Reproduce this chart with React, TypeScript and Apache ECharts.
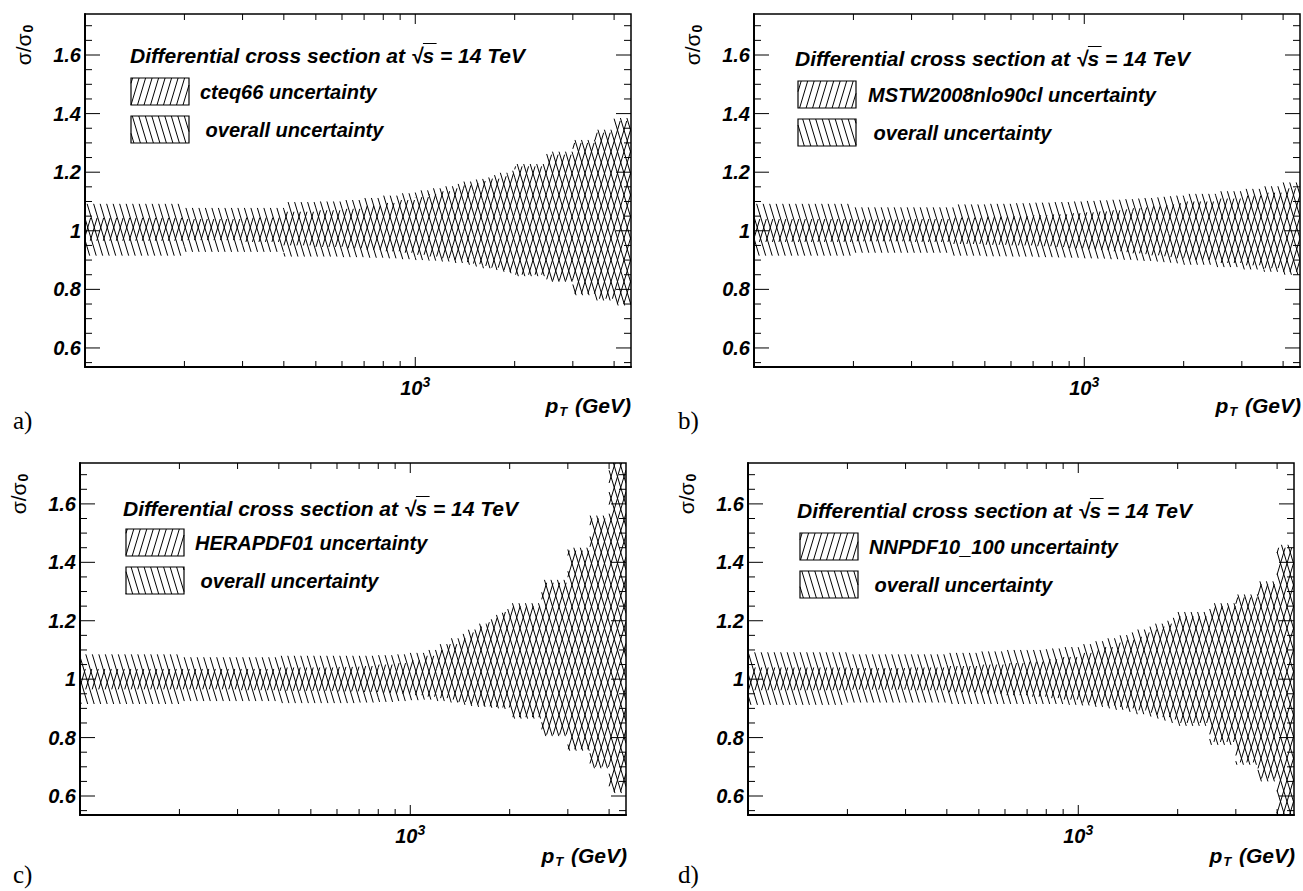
import React, { useEffect, useRef } from "react";
import * as echarts from "echarts";

// ---------- data ----------
const binEdges = [100, 200, 300, 400, 500, 600, 700, 800, 900, 1000, 1100, 1200, 1300, 1400, 1500, 1600, 1700, 1800, 1900, 2000, 2500, 3000, 3500, 4000, 4500];

// a) cteq66
const cteqOverallHigh = [1.092, 1.078, 1.078, 1.098, 1.1, 1.105, 1.112, 1.12, 1.128, 1.138, 1.145, 1.152, 1.16, 1.168, 1.175, 1.182, 1.19, 1.198, 1.205, 1.228, 1.27, 1.31, 1.345, 1.385];
const cteqOverallLow = [0.915, 0.928, 0.928, 0.912, 0.912, 0.91, 0.908, 0.906, 0.903, 0.9, 0.898, 0.895, 0.89, 0.884, 0.878, 0.872, 0.866, 0.86, 0.855, 0.845, 0.826, 0.78, 0.762, 0.745];
const cteqPdfHigh = [1.044, 1.04, 1.045, 1.065, 1.07, 1.075, 1.085, 1.095, 1.105, 1.115, 1.125, 1.135, 1.145, 1.155, 1.162, 1.17, 1.178, 1.186, 1.195, 1.22, 1.26, 1.3, 1.335, 1.375];
const cteqPdfLow = [0.966, 0.968, 0.962, 0.95, 0.945, 0.94, 0.935, 0.93, 0.925, 0.918, 0.912, 0.906, 0.9, 0.893, 0.886, 0.88, 0.874, 0.866, 0.86, 0.85, 0.83, 0.785, 0.768, 0.75];

// b) MSTW2008nlo90cl
const mstwOverallHigh = [1.092, 1.08, 1.08, 1.09, 1.092, 1.094, 1.096, 1.098, 1.1, 1.102, 1.104, 1.106, 1.108, 1.11, 1.112, 1.114, 1.116, 1.118, 1.12, 1.126, 1.135, 1.143, 1.152, 1.165];
const mstwOverallLow = [0.915, 0.925, 0.925, 0.915, 0.913, 0.912, 0.91, 0.909, 0.908, 0.906, 0.905, 0.903, 0.901, 0.899, 0.897, 0.895, 0.893, 0.891, 0.889, 0.884, 0.876, 0.868, 0.86, 0.85];
const mstwPdfHigh = [1.04, 1.038, 1.04, 1.045, 1.048, 1.05, 1.053, 1.056, 1.06, 1.063, 1.066, 1.07, 1.073, 1.077, 1.08, 1.084, 1.087, 1.09, 1.094, 1.1, 1.11, 1.12, 1.13, 1.145];
const mstwPdfLow = [0.962, 0.964, 0.962, 0.955, 0.952, 0.95, 0.947, 0.944, 0.94, 0.937, 0.934, 0.93, 0.927, 0.923, 0.92, 0.916, 0.913, 0.91, 0.906, 0.9, 0.89, 0.882, 0.872, 0.86];

// c) HERAPDF01
const heraOverallHigh = [1.085, 1.075, 1.075, 1.08, 1.08, 1.08, 1.08, 1.082, 1.085, 1.09, 1.1, 1.12, 1.14, 1.155, 1.17, 1.19, 1.205, 1.22, 1.24, 1.26, 1.34, 1.45, 1.56, 1.8];
const heraOverallLow = [0.915, 0.925, 0.925, 0.918, 0.918, 0.918, 0.92, 0.922, 0.925, 0.928, 0.93, 0.925, 0.92, 0.912, 0.908, 0.905, 0.902, 0.9, 0.898, 0.865, 0.805, 0.755, 0.695, 0.61];
const heraPdfHigh = [1.035, 1.035, 1.035, 1.04, 1.04, 1.042, 1.045, 1.05, 1.055, 1.065, 1.08, 1.1, 1.12, 1.14, 1.16, 1.18, 1.195, 1.21, 1.23, 1.25, 1.33, 1.44, 1.55, 1.78];
const heraPdfLow = [0.965, 0.965, 0.962, 0.96, 0.96, 0.958, 0.956, 0.953, 0.95, 0.945, 0.94, 0.935, 0.93, 0.922, 0.915, 0.91, 0.907, 0.905, 0.903, 0.87, 0.81, 0.76, 0.7, 0.615];

// d) NNPDF10_100
const nnpdfOverallHigh = [1.092, 1.085, 1.085, 1.09, 1.095, 1.1, 1.1, 1.105, 1.11, 1.12, 1.13, 1.14, 1.15, 1.16, 1.17, 1.18, 1.19, 1.2, 1.21, 1.23, 1.26, 1.29, 1.335, 1.46];
const nnpdfOverallLow = [0.912, 0.92, 0.92, 0.915, 0.915, 0.915, 0.915, 0.915, 0.912, 0.91, 0.905, 0.9, 0.895, 0.888, 0.88, 0.872, 0.865, 0.858, 0.85, 0.84, 0.775, 0.707, 0.65, 0.5];
const nnpdfPdfHigh = [1.04, 1.038, 1.04, 1.045, 1.05, 1.055, 1.06, 1.068, 1.076, 1.09, 1.1, 1.11, 1.125, 1.135, 1.145, 1.16, 1.17, 1.18, 1.19, 1.215, 1.25, 1.28, 1.325, 1.45];
const nnpdfPdfLow = [0.962, 0.964, 0.962, 0.955, 0.95, 0.945, 0.94, 0.935, 0.93, 0.92, 0.915, 0.91, 0.905, 0.9, 0.893, 0.885, 0.878, 0.87, 0.862, 0.85, 0.785, 0.715, 0.66, 0.51];

const pdfNames = ["cteq66", "MSTW2008nlo90cl", "HERAPDF01", "NNPDF10_100"];
const panelLetters = ["a)", "b)", "c)", "d)"];
const xMajorTicks = [1000];
const xMinorTicks = [200, 300, 400, 500, 600, 700, 800, 900, 2000, 3000, 4000];
const yMajorTicks = [0.6, 0.8, 1.0, 1.2, 1.4, 1.6];
const yMinorTicks = [0.55, 0.65, 0.7, 0.75, 0.85, 0.9, 0.95, 1.05, 1.1, 1.15, 1.25, 1.3, 1.35, 1.45, 1.5, 1.55, 1.65, 1.7];
const xLabelValues = [1000];

const bandsOverall = [
  [cteqOverallHigh, cteqOverallLow],
  [mstwOverallHigh, mstwOverallLow],
  [heraOverallHigh, heraOverallLow],
  [nnpdfOverallHigh, nnpdfOverallLow],
];
const bandsPdf = [
  [cteqPdfHigh, cteqPdfLow],
  [mstwPdfHigh, mstwPdfLow],
  [heraPdfHigh, heraPdfLow],
  [nnpdfPdfHigh, nnpdfPdfLow],
];

// ---------- layout / style ----------
const X_MIN = 100;
const X_MAX = 4500;
const Y_MIN = 0.535;
const Y_MAX = 1.74;
const FONT = "Liberation Sans";
const SERIF = "Liberation Serif";
const HATCH_SPACING = 6.5;
const HATCH_SLOPE = 0.3;
const TITLE_SIZE = 21;

const layout = [
  { left: 85, top: 14, width: 546, height: 353, title: [130, 55], box: [131, 78], text: 200, letter: [13, 420], xTitle: [631, 405] },
  { left: 754, top: 14, width: 546, height: 353, title: [795, 58], box: [798, 81], text: 868, letter: [678, 420], xTitle: [1301, 405] },
  { left: 80, top: 463, width: 546, height: 352, title: [123, 508], box: [126, 529], text: 195, letter: [13, 874], xTitle: [627, 855] },
  { left: 748, top: 463, width: 546, height: 352, title: [797, 510], box: [800, 533], text: 869, letter: [678, 874], xTitle: [1295, 855] },
];
const BOX_W = 58;
const BOX_H = 27;
const BOX_GAP = 38;

function hatchSegments(x0: number, x1: number, y0: number, y1: number, s: number, sp: number) {
  // lines x = c + s*y
  const cs = [x0 - s * y0, x0 - s * y1, x1 - s * y0, x1 - s * y1];
  const cmin = Math.min(...cs);
  const cmax = Math.max(...cs);
  const segs: number[][] = [];
  for (let k = Math.ceil(cmin / sp); k * sp <= cmax; k++) {
    const c = k * sp;
    let ya = (x0 - c) / s;
    let yb = (x1 - c) / s;
    if (ya > yb) {
      const t = ya;
      ya = yb;
      yb = t;
    }
    const lo = Math.max(y0, ya);
    const hi = Math.min(y1, yb);
    if (hi - lo > 0.2) segs.push([c + s * lo, lo, c + s * hi, hi]);
  }
  return segs;
}

function bandData(high: number[], low: number[]) {
  return high.map((h, i) => [binEdges[i], binEdges[i + 1], low[i], h]);
}

function makeBandRender(slope: number) {
  return (params: any, api: any) => {
    const x0v = api.value(0);
    const x1v = api.value(1);
    const lo = api.value(2);
    const hi = api.value(3);
    const pA = api.coord([x0v, hi]);
    const pB = api.coord([x1v, lo]);
    const cs = params.coordSys;
    const X0 = Math.max(Math.min(pA[0], pB[0]), cs.x);
    const X1 = Math.min(Math.max(pA[0], pB[0]), cs.x + cs.width);
    const Y0 = Math.max(Math.min(pA[1], pB[1]), cs.y);
    const Y1 = Math.min(Math.max(pA[1], pB[1]), cs.y + cs.height);
    if (X1 <= X0 || Y1 <= Y0) return null;
    const segs = hatchSegments(X0, X1, Y0, Y1, slope, HATCH_SPACING);
    return {
      type: "group",
      children: segs.map((s) => ({
        type: "line",
        shape: { x1: s[0], y1: s[1], x2: s[2], y2: s[3] },
        style: { stroke: "#000", lineWidth: 1 },
      })),
    };
  };
}

function xTickRender(params: any, api: any) {
  const v = api.value(0);
  const len = xMajorTicks.indexOf(v) >= 0 ? 10 : 6;
  const x = api.coord([v, 1])[0];
  const cs = params.coordSys;
  const b = cs.y + cs.height;
  return {
    type: "group",
    children: [
      { type: "line", shape: { x1: x, y1: b, x2: x, y2: b - len }, style: { stroke: "#000", lineWidth: 1 } },
      { type: "line", shape: { x1: x, y1: cs.y, x2: x, y2: cs.y + len }, style: { stroke: "#000", lineWidth: 1 } },
    ],
  };
}

function yTickRender(params: any, api: any) {
  const v = api.value(1);
  const len = yMajorTicks.some((m) => Math.abs(m - v) < 1e-6) ? 15 : 7;
  const y = api.coord([1000, v])[1];
  const cs = params.coordSys;
  const r = cs.x + cs.width;
  return {
    type: "group",
    children: [
      { type: "line", shape: { x1: cs.x, y1: y, x2: cs.x + len, y2: y }, style: { stroke: "#000", lineWidth: 1 } },
      { type: "line", shape: { x1: r, y1: y, x2: r - len, y2: y }, style: { stroke: "#000", lineWidth: 1 } },
    ],
  };
}

const boldItalic = { fontFamily: FONT, fontWeight: "bold", fontStyle: "italic", fill: "#000" };

function buildGraphic() {
  const els: any[] = [];
  const k = TITLE_SIZE / 20;
  layout.forEach((L, i) => {
    // legend title
    els.push({
      type: "text",
      x: L.title[0],
      y: L.title[1],
      style: { ...boldItalic, text: "Differential cross section at √s = 14 TeV", fontSize: TITLE_SIZE, align: "left", verticalAlign: "middle", textAlign: "left", textVerticalAlign: "middle" },
    });
    // overline of sqrt
    els.push({
      type: "line",
      shape: { x1: L.title[0] + 279 * k, y1: L.title[1] - 11.5, x2: L.title[0] + 292 * k, y2: L.title[1] - 11.5 },
      style: { stroke: "#000", lineWidth: 1 },
    });
    // legend boxes
    const rows = [
      { y: L.box[1], slope: -HATCH_SLOPE, label: pdfNames[i] + " uncertainty" },
      { y: L.box[1] + BOX_GAP, slope: HATCH_SLOPE, label: " overall uncertainty" },
    ];
    rows.forEach((row) => {
      const bx = L.box[0];
      const by = row.y;
      hatchSegments(bx, bx + BOX_W, by, by + BOX_H, row.slope, HATCH_SPACING).forEach((s) => {
        els.push({ type: "line", shape: { x1: s[0], y1: s[1], x2: s[2], y2: s[3] }, style: { stroke: "#000", lineWidth: 1 } });
      });
      els.push({
        type: "rect",
        shape: { x: bx, y: by, width: BOX_W, height: BOX_H },
        style: { fill: "none", stroke: "#000", lineWidth: 1.2 },
      });
      els.push({
        type: "text",
        x: L.text,
        y: by + BOX_H / 2,
        style: { ...boldItalic, text: row.label, fontSize: 20, align: "left", verticalAlign: "middle", textAlign: "left", textVerticalAlign: "middle" },
      });
    });
    // y title  sigma / sigma_0
    els.push({
      type: "text",
      x: L.left - 62,
      y: L.top + 31,
      rotation: Math.PI / 2,
      style: {
        text: "{a|σ/σ}{b|0}",
        align: "center",
        verticalAlign: "middle",
        textAlign: "center",
        textVerticalAlign: "middle",
        rich: {
          a: { fontFamily: FONT, fontSize: 21, fill: "#000" },
          b: { fontFamily: FONT, fontSize: 14, fontWeight: "bold", fill: "#000", padding: [9, 0, 0, 1] },
        },
      },
    });
    // x title  p_T (GeV)
    els.push({
      type: "text",
      x: L.xTitle[0],
      y: L.xTitle[1],
      style: {
        text: "{p|p}{t|T}{g| (GeV)}",
        align: "right",
        verticalAlign: "middle",
        textAlign: "right",
        textVerticalAlign: "middle",
        rich: {
          p: { ...boldItalic, fontSize: 21 },
          t: { ...boldItalic, fontSize: 13, padding: [13, 2, 0, 1] },
          g: { ...boldItalic, fontSize: 21 },
        },
      },
    });
    // panel letter
    els.push({
      type: "text",
      x: L.letter[0],
      y: L.letter[1],
      style: { text: panelLetters[i], fontFamily: SERIF, fontSize: 25, fill: "#000", align: "left", verticalAlign: "middle", textAlign: "left", textVerticalAlign: "middle" },
    });
  });
  return els;
}

export default function App() {
  const ref = useRef<HTMLDivElement>(null);
  useEffect(() => {
    if (!ref.current) return;
    const chart = echarts.init(ref.current, undefined, { renderer: "svg" });
    const grids = layout.map((L) => ({
      left: L.left,
      top: L.top,
      width: L.width,
      height: L.height,
      show: true,
      borderColor: "#000",
      borderWidth: 1.5,
      backgroundColor: "rgba(0,0,0,0)",
    }));
    const xAxes = layout.map((_, i) => ({
      type: "log",
      logBase: 10,
      gridIndex: i,
      min: X_MIN,
      max: X_MAX,
      axisLine: { show: true, onZero: false, lineStyle: { color: "#000", width: 2 } },
      axisTick: { show: false },
      splitLine: { show: false },
      axisLabel: {
        margin: 8,
        formatter: (v: number) => (xLabelValues.some((m) => Math.abs(m - v) < 1) ? "{a|10}{b|3}" : ""),
        rich: {
          a: { ...boldItalic, color: "#000", fontSize: 20 },
          b: { ...boldItalic, color: "#000", fontSize: 14, padding: [0, 0, 11, 0] },
        },
      },
    }));
    const yAxes = layout.map((_, i) => ({
      type: "value",
      gridIndex: i,
      min: Y_MIN,
      max: Y_MAX,
      axisLine: { show: true, onZero: false, lineStyle: { color: "#000", width: 2 } },
      axisTick: { show: false },
      splitLine: { show: false },
      axisLabel: {
        customValues: yMajorTicks,
        margin: 4,
        color: "#000",
        fontFamily: FONT,
        fontWeight: "bold",
        fontStyle: "italic",
        fontSize: 20,
        formatter: (v: number) => String(Math.round(v * 10) / 10),
      },
    }));
    const series: any[] = [];
    layout.forEach((_, i) => {
      series.push({
        type: "custom",
        name: "overall",
        xAxisIndex: i,
        yAxisIndex: i,
        clip: true,
        silent: true,
        encode: { x: [0, 1], y: [2, 3] },
        data: bandData(bandsOverall[i][0], bandsOverall[i][1]),
        renderItem: makeBandRender(HATCH_SLOPE),
      });
      series.push({
        type: "custom",
        name: "pdf",
        xAxisIndex: i,
        yAxisIndex: i,
        clip: true,
        silent: true,
        encode: { x: [0, 1], y: [2, 3] },
        data: bandData(bandsPdf[i][0], bandsPdf[i][1]),
        renderItem: makeBandRender(-HATCH_SLOPE),
      });
      series.push({
        type: "custom",
        name: "xticks",
        xAxisIndex: i,
        yAxisIndex: i,
        silent: true,
        encode: { x: 0, y: 1 },
        data: [...xMinorTicks, ...xMajorTicks].map((v) => [v, 1]),
        renderItem: xTickRender,
      });
      series.push({
        type: "custom",
        name: "yticks",
        xAxisIndex: i,
        yAxisIndex: i,
        silent: true,
        encode: { x: 0, y: 1 },
        data: [...yMinorTicks, ...yMajorTicks].map((v) => [1000, v]),
        renderItem: yTickRender,
      });
    });
    chart.setOption({
      animation: false,
      backgroundColor: "#fff",
      grid: grids,
      xAxis: xAxes,
      yAxis: yAxes,
      series,
      graphic: buildGraphic(),
    });
    return () => chart.dispose();
  }, []);
  return <div ref={ref} style={{ position: "fixed", left: 0, top: 0, width: 1303, height: 891 }} />;
}
